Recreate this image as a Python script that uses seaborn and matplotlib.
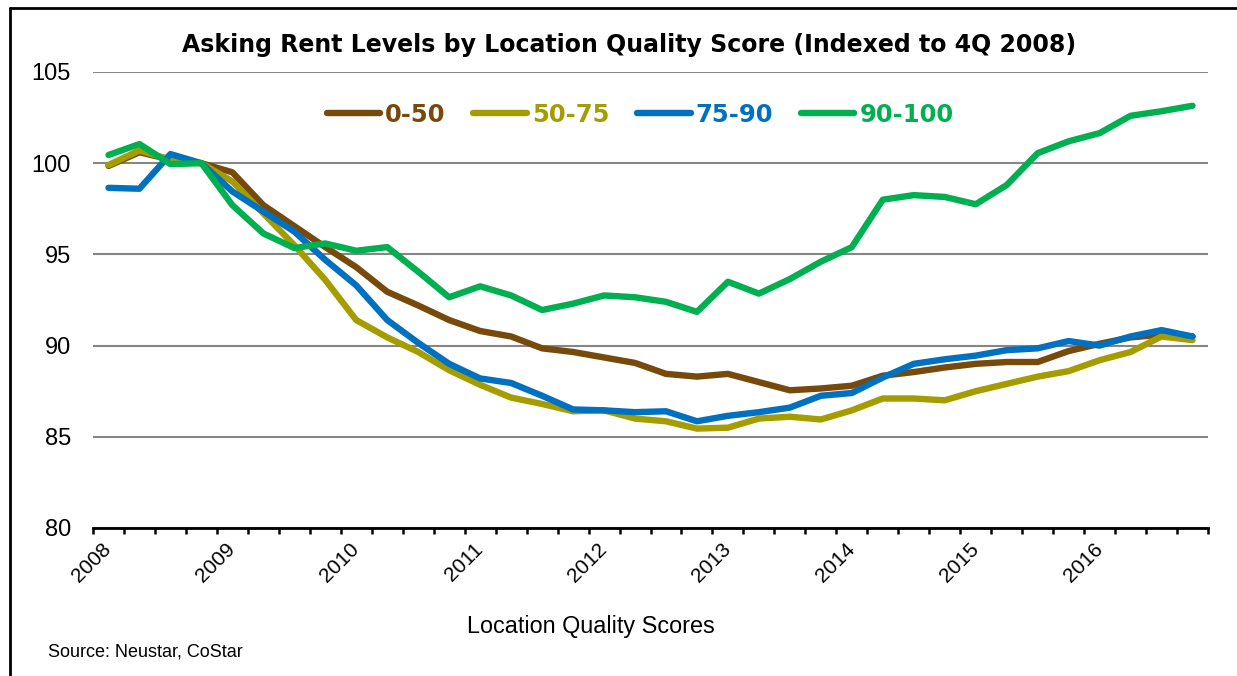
import numpy as np
import pandas as pd
import matplotlib
matplotlib.use('Agg')
import matplotlib.pyplot as plt
import seaborn as sns
from matplotlib import font_manager
from matplotlib.lines import Line2D

# 数据：2008Q1 - 2016Q4，共36个季度
years = ['2008', '2009', '2010', '2011', '2012', '2013', '2014', '2015', '2016']
series_names = ['0-50', '50-75', '75-90', '90-100']

s_0_50 = [99.85, 100.6, 100.2, 100.0, 99.5, 97.7, 96.55, 95.4, 94.3, 92.95,
          92.2, 91.4, 90.8, 90.5, 89.85, 89.65, 89.35, 89.05, 88.45, 88.3,
          88.45, 88.0, 87.55, 87.65, 87.8, 88.35, 88.55, 88.8, 89.0, 89.1,
          89.1, 89.7, 90.1, 90.45, 90.6, 90.5]
s_50_75 = [99.9, 100.7, 100.2, 100.0, 99.0, 97.25, 95.5, 93.6, 91.4, 90.45,
           89.65, 88.65, 87.85, 87.15, 86.8, 86.4, 86.45, 86.0, 85.85, 85.45,
           85.5, 86.0, 86.1, 85.95, 86.45, 87.1, 87.1, 87.0, 87.5, 87.9,
           88.3, 88.6, 89.2, 89.65, 90.5, 90.3]
s_75_90 = [98.65, 98.6, 100.5, 100.0, 98.45, 97.35, 96.25, 94.7, 93.3, 91.4,
           90.15, 89.0, 88.2, 87.95, 87.25, 86.5, 86.45, 86.35, 86.4, 85.85,
           86.15, 86.35, 86.6, 87.25, 87.4, 88.25, 89.0, 89.25, 89.45, 89.75,
           89.85, 90.25, 90.0, 90.5, 90.85, 90.5]
s_90_100 = [100.45, 101.05, 99.95, 100.0, 97.7, 96.15, 95.35, 95.6, 95.2, 95.4,
            94.05, 92.65, 93.25, 92.75, 91.95, 92.3, 92.75, 92.65, 92.4, 91.85,
            93.5, 92.85, 93.65, 94.6, 95.4, 98.0, 98.25, 98.15, 97.75, 98.8,
            100.55, 101.2, 101.65, 102.6, 102.85, 103.15]

colors = ['#774A0C', '#A59D00', '#0070C0', '#00B050']

# 整理成长表
n = len(s_0_50)
df = pd.DataFrame({
    'q': np.tile(np.arange(n), 4),
    'value': s_0_50 + s_50_75 + s_75_90 + s_90_100,
    'group': np.repeat(series_names, n),
})

sns.set_theme(style='white')
names = {f.name for f in font_manager.fontManager.ttflist}
narrow = 'Liberation Sans Narrow' if 'Liberation Sans Narrow' in names else 'Liberation Sans'
plt.rcParams['font.family'] = ['Liberation Sans', 'DejaVu Sans']
plt.rcParams['text.color'] = 'black'

W, H = 1237, 676
fig = plt.figure(figsize=(W / 100, H / 100), dpi=100)
ax = fig.add_axes([93 / W, 148 / H, 1115 / W, 456 / H])

sns.lineplot(data=df, x='q', y='value', hue='group', hue_order=series_names,
             palette=colors, linewidth=4.6, legend=False, ax=ax,
             solid_capstyle='round', solid_joinstyle='round')

ax.set_xlim(-0.5, n - 0.5)
ax.set_ylim(80, 105)
ax.set_yticks([80, 85, 90, 95, 100, 105])
ax.set_yticklabels(['80', '85', '90', '95', '100', '105'], fontsize=17)
ax.set_xticks(np.arange(0, n, 4))
ax.set_xticklabels(years, fontsize=15, family=narrow)
ax.set_xticks(np.arange(-0.5, n, 1), minor=True)
ax.tick_params(axis='y', length=0, pad=16, labelcolor='black')
ax.tick_params(axis='x', which='major', length=0, pad=13, labelcolor='black')
ax.tick_params(axis='x', which='minor', length=4.5, width=1.8, direction='out',
               color='black', bottom=True)
plt.setp(ax.get_xticklabels(), rotation=45, ha='right', va='center',
         rotation_mode='anchor')
ax.set_xlabel('')
ax.set_ylabel('')

ax.yaxis.grid(True, color='#868686', linewidth=1.5)
ax.set_axisbelow(True)
for side in ['top', 'right', 'left']:
    ax.spines[side].set_visible(False)
ax.spines['bottom'].set_color('black')
ax.spines['bottom'].set_linewidth(2.0)
ax.spines['bottom'].set_zorder(5)

# 图例
handles = [Line2D([], [], color=c, linewidth=4.6, solid_capstyle='round') for c in colors]
leg = ax.legend(handles, series_names, loc='center', bbox_to_anchor=(640 / W, 1 - 115 / H),
                bbox_transform=fig.transFigure, ncol=4, frameon=False,
                prop={'family': 'DejaVu Sans', 'weight': 'bold', 'size': 17.5},
                handlelength=2.2, handletextpad=0.2, columnspacing=1.15)
for txt, c in zip(leg.get_texts(), colors):
    txt.set_color(c)

fig.text(629 / W, 1 - 45 / H, 'Asking Rent Levels by Location Quality Score (Indexed to 4Q 2008)',
         ha='center', va='center', fontsize=17, fontweight='bold', family='DejaVu Sans',
         color='black')
fig.text(591 / W, 1 - 627 / H, 'Location Quality Scores', ha='center', va='center',
         fontsize=16.8, family=narrow, color='black')
fig.text(48 / W, 1 - 652 / H, 'Source: Neustar, CoStar', ha='left', va='center',
         fontsize=13, family=narrow, color='black')

# 外框（上、左）
fig.add_artist(Line2D([10 / W, 1], [1 - 8 / H, 1 - 8 / H], transform=fig.transFigure,
                      color='black', linewidth=2))
fig.add_artist(Line2D([10 / W, 10 / W], [0, 1 - 8 / H], transform=fig.transFigure,
                      color='black', linewidth=2))

fig.savefig('out.png', dpi=100)
